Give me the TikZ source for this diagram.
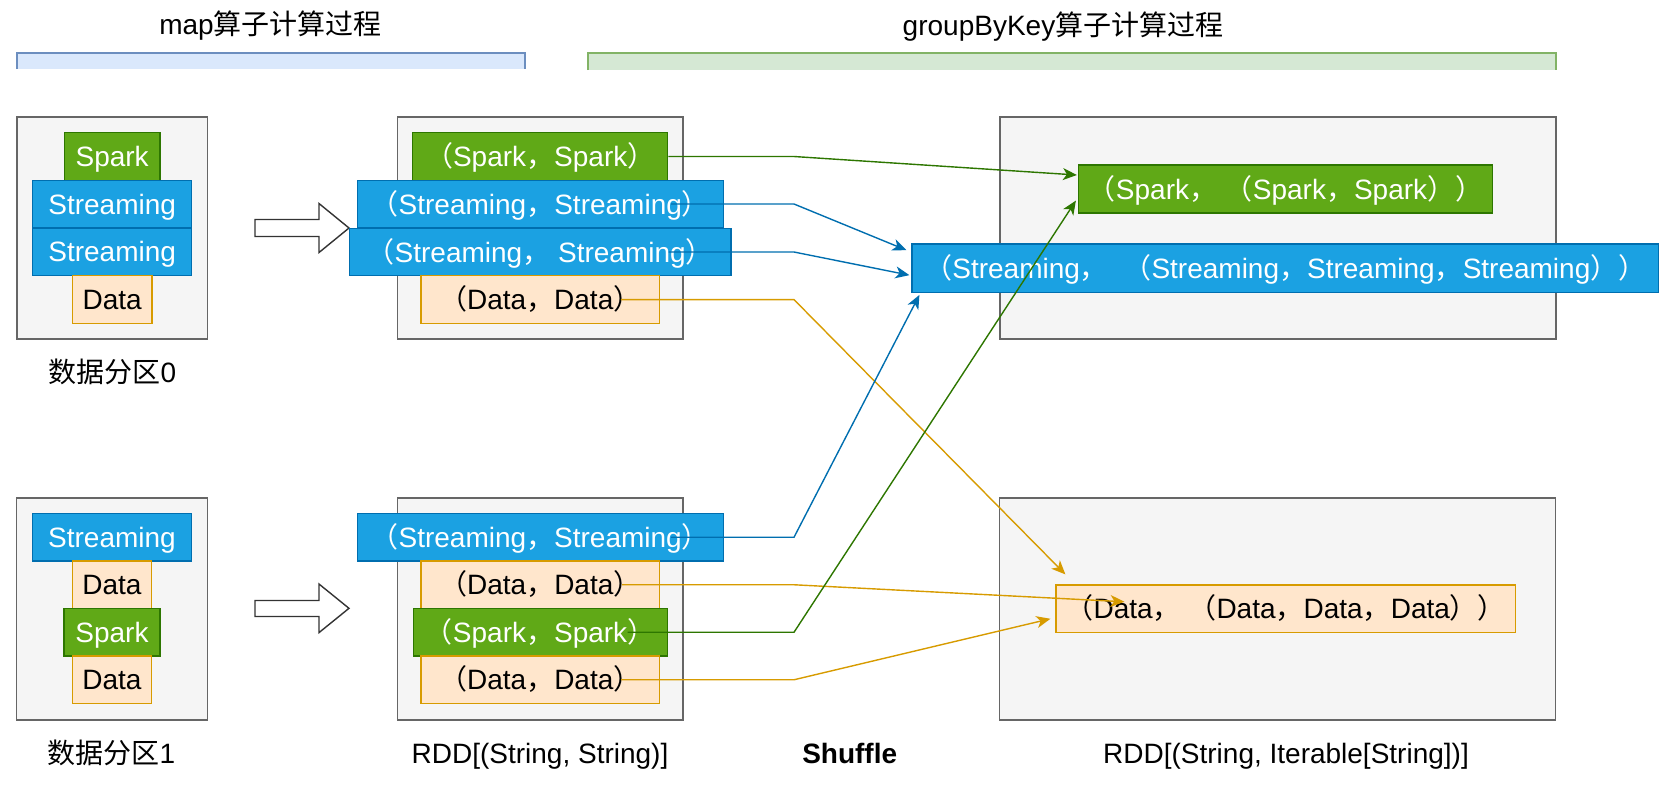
\documentclass[tikz,border=0pt]{standalone}
\usepackage{fontspec}
\setmainfont{Liberation Sans}
\newfontfamily\cjkfont{Noto Sans CJK SC}
\usetikzlibrary{arrows.meta,calc}

% full-width punctuation
\newcommand\zlp{{\cjkfont （}}
\newcommand\zrp{{\cjkfont ）}}
\newcommand\zcm{{\cjkfont ，}}

\definecolor{grayfill}{HTML}{F5F5F5}
\definecolor{grayline}{HTML}{666666}
\definecolor{sgreen}{HTML}{60A917}
\definecolor{sgreenline}{HTML}{2D7600}
\definecolor{sblue}{HTML}{1BA1E2}
\definecolor{sblueline}{HTML}{006EAF}
\definecolor{sorange}{HTML}{FFE6CC}
\definecolor{sorangeline}{HTML}{D79B00}
\definecolor{barblue}{HTML}{DAE8FC}
\definecolor{barblueline}{HTML}{6C8EBF}
\definecolor{bargreen}{HTML}{D5E8D4}
\definecolor{bargreenline}{HTML}{82B366}

\tikzset{
  txt/.style={inner sep=0pt, text height=10pt, text depth=0pt, font=\fontsize{14}{16}\selectfont},
  part/.style={draw=grayline, fill=grayfill, line width=0.8pt, minimum height=111pt},
  cell/.style={txt, line width=0.6pt, minimum height=23.75pt},
  gcell/.style={cell, draw=sgreenline, fill=sgreen, text=white},
  bcell/.style={cell, draw=sblueline, fill=sblue, text=white},
  ocell/.style={cell, draw=sorangeline, fill=sorange, text=black},
  blockarrow/.style={draw=black!80, fill=white, line width=0.7pt, line join=miter},
  link/.style={line width=0.7pt, -{Stealth[length=7pt,width=6pt,inset=2pt]}},
  glink/.style={link, draw=sgreenline},
  blink/.style={link, draw=sblueline},
  olink/.style={link, draw=sorangeline},
}

\begin{document}
\begin{tikzpicture}[x=0.5pt,y=-0.5pt]
\useasboundingbox (0,0) rectangle (1664,784);

% stage bars and titles
\fill[barblue] (16.8,53) rectangle (525,69);
\draw[barblueline, line width=0.7pt] (16.8,69) -- (16.8,53) -- (525,53) -- (525,69);
\fill[bargreen] (588,53) rectangle (1556,70);
\draw[bargreenline, line width=0.7pt] (588,70) -- (588,53) -- (1556,53) -- (1556,70);
\node[txt] (t0) at (270.5,24) {map{\cjkfont 算子计算过程}};
\node[txt] (t1) at (1063,25) {groupByKey{\cjkfont 算子计算过程}};

% input partitions
\node[part, minimum width=95.35pt] (p0) at (112.15,228) {};
\node[gcell, minimum width=47.85pt] (p0s) at (112.15,156.5) {Spark};
\node[bcell, minimum width=79.65pt] (p0a) at (112.15,204) {Streaming};
\node[bcell, minimum width=79.65pt] (p0b) at (112.15,251.75) {Streaming};
\node[ocell, minimum width=39.9pt] (p0d) at (112.15,299.5) {Data};
\node[txt] (l0) at (112.5,372) {{\cjkfont 数据分区}0};

\node[part, minimum width=95.5pt] (p1) at (112,608.75) {};
\node[bcell, minimum width=79.7pt] (p1a) at (112,537.25) {Streaming};
\node[ocell, minimum width=39.75pt] (p1d) at (112,584.75) {Data};
\node[gcell, minimum width=48pt] (p1s) at (112,632.25) {Spark};
\node[ocell, minimum width=39.75pt] (p1e) at (112,679.75) {Data};
\node[txt] (l1) at (111.5,753) {{\cjkfont 数据分区}1};

% map arrows
\draw[blockarrow] (255,219.5) -- (319,219.5) -- (319,203.5) -- (349,228) -- (319,252.5) -- (319,236.5) -- (255,236.5) -- cycle;
\draw[blockarrow] (255,600.5) -- (319,600.5) -- (319,584) -- (349,608.3) -- (319,632.6) -- (319,616.5) -- (255,616.5) -- cycle;

% RDD[(String, String)]
\node[part, minimum width=142.75pt] (r0) at (540.25,228) {};
\node[gcell, minimum width=127.5pt] (r0s) at (540.2,156.5) {\zlp Spark\zcm Spark\zrp};
\node[bcell, minimum width=183pt] (r0a) at (540.3,204) {\zlp Streaming\zcm Streaming\zrp};
\node[bcell, minimum width=190.85pt] (r0b) at (540.2,252) {\zlp Streaming\zcm\ Streaming\zrp};
\node[ocell, minimum width=119.15pt] (r0d) at (540.2,299.6) {\zlp Data\zcm Data\zrp};

\node[part, minimum width=142.75pt] (r1) at (540.25,608.75) {};
\node[bcell, minimum width=183pt] (r1a) at (540.2,537.25) {\zlp Streaming\zcm Streaming\zrp};
\node[ocell, minimum width=119.25pt] (r1d) at (540.25,584.75) {\zlp Data\zcm Data\zrp};
\node[gcell, minimum width=127pt] (r1s) at (540.1,632.25) {\zlp Spark\zcm Spark\zrp};
\node[ocell, minimum width=119.25pt] (r1e) at (540.25,679.75) {\zlp Data\zcm Data\zrp};
\node[txt] (l2) at (540,753) {RDD[(String, String)]};

\node[txt, font=\fontsize{14}{16}\selectfont\bfseries] (l3) at (849.7,753) {Shuffle};

% RDD[(String, Iterable[String])]
\node[part, minimum width=277.85pt] (g0) at (1277.85,228) {};
\node[part, minimum width=277.95pt] (g1) at (1277.5,608.75) {};
\node[gcell, minimum width=207.05pt, minimum height=24pt] (sagg) at (1285.55,189) {\zlp Spark\zcm\ \zlp Spark\zcm Spark\zrp\zrp};
\node[bcell, minimum width=373.35pt, minimum height=24.15pt] (stagg) at (1285.35,268.15) {\zlp Streaming\zcm\ \ \zlp Streaming\zcm Streaming\zcm Streaming\zrp\zrp};
\node[ocell, minimum width=229.75pt] (dagg) at (1285.75,608.75) {\zlp Data\zcm\ \zlp Data\zcm Data\zcm Data\zrp\zrp};
\node[txt] (l4) at (1286,753) {RDD[(String, Iterable[String])]};

% shuffle connectors
\coordinate (mx) at (794,0);
\coordinate (s1) at (r0s.east);
\coordinate (s2) at ($(r0a.east)+(-53,0)$);
\coordinate (s3) at ($(r0b.east)+(-63,0)$);
\coordinate (s4) at ($(r0d.east)+(-39,0)$);
\coordinate (s5) at ($(r1a.east)+(-53,0)$);
\coordinate (s6) at ($(r1d.east)+(-38,0)$);
\coordinate (s7) at ($(r1s.east)+(-40,0)$);
\coordinate (s8) at ($(r1e.east)+(-39,0)$);

\draw[glink] (s1) -- (s1 -| mx) -- ($(sagg.west)+(-1,-14)$);
\draw[blink] (s2) -- (s2 -| mx) -- ($(stagg.west)+(-5,-18)$);
\draw[blink] (s3) -- (s3 -| mx) -- ($(stagg.west)+(-2,7)$);
\draw[olink] (s4) -- (s4 -| mx) -- ($(dagg.north west)+(10,-10)$);
\draw[blink] (s5) -- (s5 -| mx) -- ($(stagg.south west)+(8,2)$);
\draw[olink] (s6) -- (s6 -| mx) -- ($(dagg.west)+(69,-7)$);
\draw[glink] (s7) -- (s7 -| mx) -- ($(sagg.south west)+(-2,-13)$);
\draw[olink] (s8) -- (s8 -| mx) -- ($(dagg.west)+(-5,10)$);
\end{tikzpicture}
\end{document}
